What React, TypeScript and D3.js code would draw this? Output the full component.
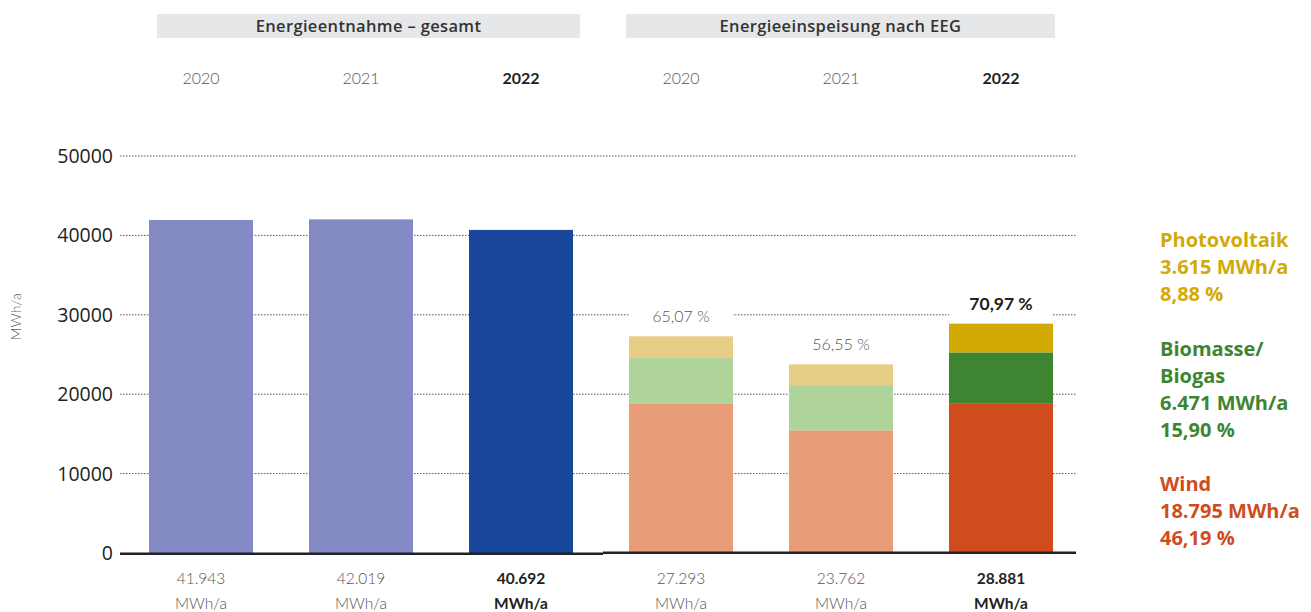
import React from "react";
import * as d3 from "d3";

const categories = ["E2020", "E2021", "E2022", "F2020", "F2021", "F2022"];
const yearLabels = ["2020", "2021", "2022", "2020", "2021", "2022"];
const totalValues = [41943, 42019, 40692];
const windValues = [18850, 15450, 18795];
const bioValues = [5700, 5700, 6471];
const pvValues = [2743, 2612, 3615];
const valueLabels = ["41.943", "42.019", "40.692", "27.293", "23.762", "28.881"];
const percentLabels = ["65,07 %", "56,55 %", "70,97 %"];
const yTicks = [0, 10000, 20000, 30000, 40000, 50000];
const headerLabels = ["Energieentnahme – gesamt", "Energieeinspeisung nach EEG"];
const legendItems = [
  { lines: ["Photovoltaik", "3.615 MWh/a", "8,88 %"], color: "#D3A906" },
  { lines: ["Biomasse/", "Biogas", "6.471 MWh/a", "15,90 %"], color: "#3D8530" },
  { lines: ["Wind", "18.795 MWh/a", "46,19 %"], color: "#D04C1C" },
];

const totalColors = ["#8389C2", "#8389C2", "#19479C"];
const lightColors = { wind: "#E89C78", bio: "#AED49B", pv: "#E8CD87" };
const darkColors = { wind: "#D04C1C", bio: "#3D8530", pv: "#D3A906" };

const W = 1311;
const H = 612;
const FONT = "Lato, 'Noto Sans', sans-serif";
const OPEN = "'Open Sans', sans-serif";

export default function App() {
  const x = d3
    .scaleBand<string>()
    .domain(categories)
    .range([121, 1081])
    .paddingInner(0.35)
    .paddingOuter(0.175);
  const y = d3.scaleLinear().domain([0, 50000]).range([553, 156]);
  const bw = x.bandwidth();

  const stackData = windValues.map((w, i) => ({
    key: categories[i + 3],
    wind: w,
    bio: bioValues[i],
    pv: pvValues[i],
  }));
  const stack = d3.stack<any>().keys(["wind", "bio", "pv"]);
  const series = stack(stackData);

  const isBold = (i: number) => i === 2 || i === 5;

  return (
    <svg width={W} height={H} style={{ position: "absolute", left: 0, top: 0 }}>
      <rect width={W} height={H} fill="#fff" />
      {/* headers */}
      {[0, 1].map((g) => {
        const x0 = g === 0 ? 157 : 626;
        const x1 = g === 0 ? 580 : 1055;
        return (
          <g key={g}>
            <rect x={x0} y={14} width={x1 - x0} height={24} fill="#E6E7E9" />
            <text
              x={(x0 + x1) / 2}
              y={31.5}
              textAnchor="middle"
              fontFamily={OPEN}
              fontWeight={600}
              fontSize={16.5}
              letterSpacing={0.35}
              fill="#333"
            >
              {headerLabels[g]}
            </text>
          </g>
        );
      })}
      {/* year labels */}
      {categories.map((c, i) => (
        <text
          key={c}
          x={(x(c) as number) + bw / 2}
          y={84}
          textAnchor="middle"
          fontFamily={FONT}
          fontWeight={isBold(i) ? 700 : 300}
          fontSize={16}
          fill={isBold(i) ? "#222" : "#555"}
        >
          {yearLabels[i]}
        </text>
      ))}
      {/* grid */}
      {yTicks.filter((t) => t > 0).map((t) => (
        <line
          key={t}
          x1={120}
          x2={1076}
          y1={y(t)}
          y2={y(t)}
          stroke="#555"
          strokeWidth={1}
          strokeDasharray="1.5,1.5"
        />
      ))}
      {/* y tick labels */}
      {yTicks.map((t) => (
        <text
          key={t}
          x={113}
          y={y(t) + 7}
          textAnchor="end"
          fontFamily={OPEN}
          fontSize={19.5}
          fill="#222"
        >
          {t}
        </text>
      ))}
      <text
        transform={`translate(21,${y(30000) + 2}) rotate(-90)`}
        textAnchor="middle"
        fontFamily={FONT}
        fontWeight={300}
        fontSize={14}
        fill="#666"
      >
        MWh/a
      </text>
      {/* total bars */}
      {totalValues.map((v, i) => (
        <rect
          key={i}
          x={x(categories[i])}
          y={y(v)}
          width={bw}
          height={y(0) - y(v)}
          fill={totalColors[i]}
        />
      ))}
      {/* stacked bars */}
      {series.map((s) =>
        s.map((d, i) => {
          const key = s.key as "wind" | "bio" | "pv";
          const color = i === 2 ? darkColors[key] : lightColors[key];
          return (
            <rect
              key={s.key + i}
              x={x(categories[i + 3])}
              y={y(d[1])}
              width={bw}
              height={y(d[0]) - y(d[1])}
              fill={color}
            />
          );
        })
      )}
      {/* percent labels */}
      {stackData.map((d, i) => {
        const total = d.wind + d.bio + d.pv;
        const top = y(total);
        const cx = (x(categories[i + 3]) as number) + bw / 2;
        return (
          <g key={i}>
            <rect x={x(categories[i + 3])} y={top - 32} width={bw} height={31} fill="#fff" />
            <text
              x={cx}
              y={top - 14}
              textAnchor="middle"
              fontFamily={FONT}
              fontWeight={i === 2 ? 700 : 300}
              fontSize={i === 2 ? 17.5 : 16}
              fill={i === 2 ? "#222" : "#555"}
            >
              {percentLabels[i]}
            </text>
          </g>
        );
      })}
      {/* baseline */}
      <line x1={120} x2={603} y1={553.8} y2={553.8} stroke="#222" strokeWidth={2.5} />
      <line x1={603} x2={1076} y1={552.8} y2={552.8} stroke="#222" strokeWidth={2.5} />
      {/* value labels */}
      {categories.map((c, i) => {
        const cx = (x(c) as number) + bw / 2;
        return (
          <g key={c}>
            <text
              x={cx}
              y={584}
              textAnchor="middle"
              fontFamily={FONT}
              fontWeight={isBold(i) ? 700 : 300}
              fontSize={15.5}
              fill={isBold(i) ? "#222" : "#555"}
            >
              {valueLabels[i]}
            </text>
            <text
              x={cx}
              y={609}
              textAnchor="middle"
              fontFamily={FONT}
              fontWeight={isBold(i) ? 700 : 300}
              fontSize={15.5}
              fill={isBold(i) ? "#222" : "#555"}
            >
              MWh/a
            </text>
          </g>
        );
      })}
      {/* legend */}
      {(() => {
        const starts = [247, 356, 491];
        return legendItems.map((item, k) =>
          item.lines.map((ln, j) => (
            <text
              key={k + "-" + j}
              x={1160}
              y={starts[k] + j * 27}
              fontFamily={OPEN}
              fontWeight={700}
              fontSize={20}
              fill={item.color}
            >
              {ln}
            </text>
          ))
        );
      })()}
    </svg>
  );
}
